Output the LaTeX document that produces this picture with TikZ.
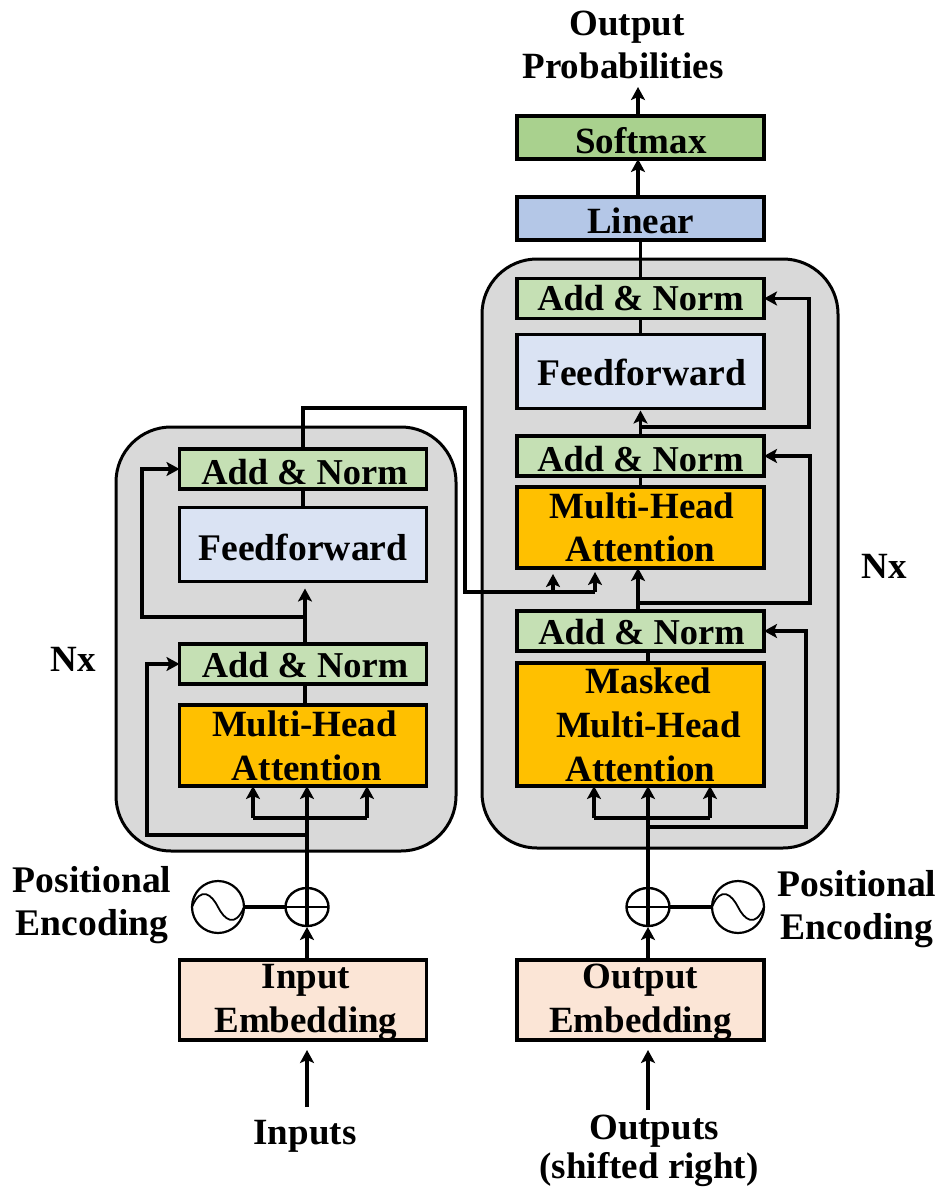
\documentclass[tikz,border=0pt]{standalone}
\usepackage{fontspec}
\setmainfont{Liberation Serif}
\usetikzlibrary{arrows.meta,shapes.geometric,calc}
\definecolor{cgrey}{HTML}{D9D9D9}
\definecolor{cgreen}{HTML}{C5E0B4}
\definecolor{cgreens}{HTML}{A9D18E}
\definecolor{cblue}{HTML}{B4C7E7}
\definecolor{cpale}{HTML}{DAE3F3}
\definecolor{corange}{HTML}{FFC000}
\definecolor{cpeach}{HTML}{FBE5D6}
\newcommand{\pushdown}[2]{\raisebox{-#1pt}[\height][\depth]{#2}}
\tikzset{
  x=1pt,y=-1pt,
  every node/.style={font=\fontsize{37}{43.5}\selectfont\bfseries,text=black,inner sep=0pt,outer sep=0pt},
  stack/.style={draw=black,line width=3pt,rounded corners=55pt,fill=cgrey},
  blockbox/.style={draw=black,line width=3.2pt,minimum width=247pt,align=center,anchor=center},
  addnorm/.style={blockbox,fill=cgreen,minimum height=40pt,font=\fontsize{36.4}{43.5}\selectfont\bfseries},
  feed/.style={blockbox,fill=cpale,minimum height=74pt,font=\fontsize{37.6}{43.5}\selectfont\bfseries},
  attn/.style={blockbox,fill=corange},
  embed/.style={blockbox,fill=cpeach,minimum height=80pt},
  label/.style={align=center},
  poslabel/.style={align=center,font=\fontsize{37.6}{43.5}\selectfont\bfseries},
  link/.style={draw=black,line width=3.2pt},
  arrow/.style={link,-{Stealth[length=13pt,width=14pt,inset=3pt]}},
  addsym/.style={draw=black,line width=2.4pt,ellipse,minimum width=43pt,minimum height=38pt,fill=white},
  wave/.style={draw=black,line width=2.2pt,circle,minimum size=52pt,fill=white}
}
\begin{document}
\begin{tikzpicture}
\useasboundingbox[fill=white] (0,0) rectangle (940,1190);
% stacks
\node[stack,minimum width=340pt,minimum height=424pt] (encstack) at (286,639) {};
\node[stack,minimum width=356pt,minimum height=589pt] (decstack) at (660,553.5) {};
% encoder blocks
\node[addnorm] (enAddB) at (303,469) {\pushdown{3}{\hspace*{3pt}Add \& Norm}};
\node[feed] (enFeed) at (303,544.5) {\pushdown{3}{Feedforward}};
\node[addnorm] (enAddA) at (303,664) {\pushdown{1}{\hspace*{4pt}Add \& Norm}};
\node[attn,minimum height=81pt] (enAttn) at (303,745.5) {\hspace*{3pt}Multi-Head\\\pushdown{1}{\hspace*{8pt}Attention}};
\node[embed] (inEmbed) at (303,1000) {\pushdown{2}{\hspace*{6pt}Input}\\\pushdown{3}{\hspace*{6pt}Embedding}};
% decoder blocks
\node[blockbox,fill=cgreens,minimum height=43pt] (softmax) at (640.5,137.5) {\pushdown{3}{\hspace*{1pt}Softmax}};
\node[blockbox,fill=cblue,minimum height=43pt] (linear) at (640.5,218.5) {\pushdown{2}{Linear}};
\node[addnorm] (deAddC) at (640.5,298.5) {Add \& Norm};
\node[feed] (deFeed) at (640.5,371.5) {\pushdown{1}{\hspace*{2pt}Feedforward}};
\node[addnorm] (deAddB) at (640.5,456) {\pushdown{3}{Add \& Norm}};
\node[attn,minimum height=81pt] (deAttn) at (640.5,527.5) {\hspace*{3pt}Multi-Head\\Attention};
\node[addnorm] (deAddA) at (640.5,631) {\pushdown{1}{\hspace*{2pt}Add \& Norm}};
\node[attn,minimum height=123pt] (deMask) at (640.5,724.5) {\hspace*{16pt}Masked\\\hspace*{16pt}Multi-Head\\\pushdown{1}{Attention}};
\node[embed] (outEmbed) at (640.5,1000) {\pushdown{2}{Output}\\\pushdown{3}{Embedding}};
% positional parts
\node[addsym] (plusL) at (307,907) {};
\node[addsym] (plusR) at (648,907) {};
\node[wave] (waveL) at (218,907) {};
\node[wave] (waveR) at (738,907) {};
\foreach \s in {plusL,plusR}{
  \draw[line width=2.4pt] (\s.west) -- (\s.east);
}
\foreach \s in {waveL,waveR}{
  \draw[line width=1.8pt] (\s.west) .. controls ($(\s)+(-17,-22)$) and ($(\s)+(-6,-12)$) .. (\s.center)
     .. controls ($(\s)+(6,12)$) and ($(\s)+(17,22)$) .. (\s.east);
}
% labels
\node[label] (lblProb) at (623,45) {\hspace*{8pt}Output\\Probabilities};
\node[label] (lblNxL) at (73,659) {Nx};
\node[label] (lblNxR) at (884,566) {Nx};
\node[poslabel] (lblPosL) at (92,905) {Positional\\Encoding};
\node[poslabel] (lblPosR) at (857,909) {Positional\\Encoding};
\node[label] (lblIn) at (305,1136) {Inputs};
\node[label] (lblOutA) at (654,1131) {Outputs};
\node[label] (lblOutB) at (649,1170) {(shifted right)};
% named free ends
\coordinate (inTail) at (307,1107);
\coordinate (outTail) at (648,1110);
\coordinate (probTip) at (638,87);
\coordinate (enSkipA) at (147,835);
\coordinate (enSplit) at (253,818);
\coordinate (enSplitR) at (367,818);
\coordinate (enSkipB) at (142,617);
\coordinate (enOutA) at (303,408);
\coordinate (enOutB) at (465,408);
\coordinate (enOutC) at (465,592);
\coordinate (enKey) at (553,592);
\coordinate (enVal) at (595,592);
\coordinate (deSplitL) at (594,818);
\coordinate (deSplitR) at (710,818);
\coordinate (deSkipA) at (806,827);
\coordinate (deSkipB) at (810,603);
\coordinate (deSkipC) at (809,427);
% encoder connectors
\draw[arrow] (inTail) -- ($(inEmbed.south -| inTail)+(0,10)$);
\draw[arrow] (inEmbed.north -| plusL) -- ($(plusL.south)+(0,1)$);
\draw[link] (waveL) ++(26,0) -- (plusL.west);
\draw[arrow] (plusL.south) -- (enAttn.south -| plusL);
\draw[link] (plusL |- enSplit) -- (enSplit);
\draw[arrow] (enSplit) -- (enAttn.south -| enSplit);
\draw[link] (plusL |- enSplitR) -- (enSplitR);
\draw[arrow] (enSplitR) -- (enAttn.south -| enSplitR);
\draw[arrow] (plusL |- enSkipA) -- (enSkipA) -- (enSkipA |- enAddA.west) -- (enAddA.west);
\draw[link] (enAttn.north -| 305,0) -- (enAddA.south -| 305,0);
\draw[arrow] (enAddA.north -| 305,0) -- ($(enFeed.south -| 305,0)+(0,7)$);
\draw[arrow] (305,617) -- (enSkipB) -- (enSkipB |- enAddB.west) -- (enAddB.west);
\draw[link] (enFeed.north) -- (enAddB.south);
\draw[link] (enAddB.north) -- (enOutA) -- (enOutB) -- (enOutC) -- (enVal);
\draw[arrow] (enVal) -- ($(deAttn.south -| enVal)+(0,4)$);
\draw[arrow] (enKey) -- ($(deAttn.south -| enKey)+(0,6)$);
% decoder connectors
\draw[arrow] (outTail) -- ($(outEmbed.south -| outTail)+(0,10)$);
\draw[arrow] (outEmbed.north -| plusR) -- ($(plusR.south)+(0,1)$);
\draw[link] (waveR) ++(-26,0) -- (plusR.east);
\draw[arrow] (plusR.south) -- (deMask.south -| plusR);
\draw[link] (plusR |- deSplitL) -- (deSplitL);
\draw[arrow] (deSplitL) -- (deMask.south -| deSplitL);
\draw[link] (plusR |- deSplitR) -- (deSplitR);
\draw[arrow] (deSplitR) -- (deMask.south -| deSplitR);
\draw[arrow] (plusR |- deSkipA) -- (deSkipA) -- (deSkipA |- deAddA.east) -- (deAddA.east);
\draw[link] (deMask.north -| plusR) -- (deAddA.south -| plusR);
\draw[arrow] (deAddA.north -| 638,0) -- (deAttn.south -| 638,0);
\draw[arrow] (638,603) -- (deSkipB) -- (deSkipB |- deAddB.east) -- (deAddB.east);
\draw[link] (deAttn.north) -- (deAddB.south);
\draw[arrow] (deAddB.north) -- ($(deFeed.south)+(0,2)$);
\draw[arrow] (deAddB.north |- deSkipC) -- (deSkipC) -- (deSkipC |- deAddC.east) -- (deAddC.east);
\draw[link] (deFeed.north) -- (deAddC.south);
\draw[link] (deAddC.north) -- (linear.south);
\draw[arrow] (linear.north -| probTip) -- (softmax.south -| probTip);
\draw[arrow] (softmax.north -| probTip) -- (probTip);
\end{tikzpicture}
\end{document}
